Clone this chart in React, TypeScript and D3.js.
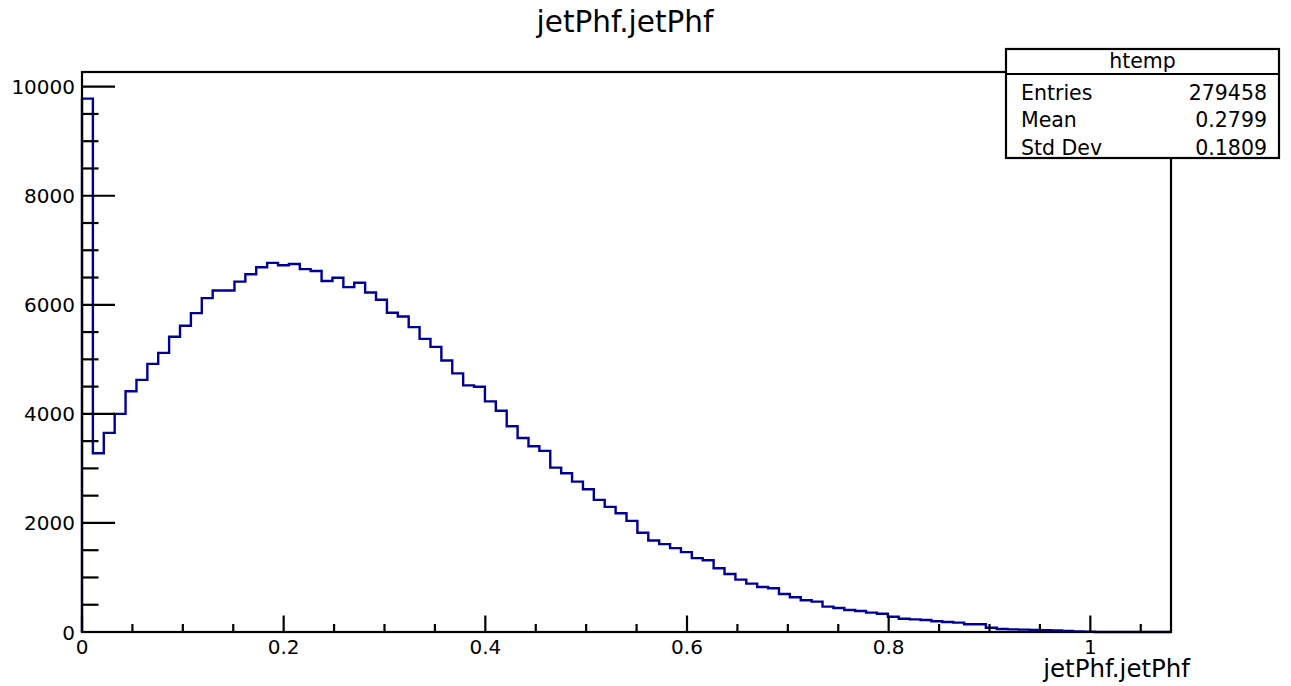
import React from "react";
import * as d3 from "d3";

const binCounts: number[] = [
  9780, 3279, 3651, 4000, 4416, 4624, 4917, 5119, 5413, 5615,
  5847, 6122, 6263, 6263, 6425, 6560, 6688, 6768, 6725, 6748,
  6654, 6620, 6437, 6495, 6324, 6404, 6226, 6092, 5853, 5786,
  5590, 5376, 5229, 4979, 4743, 4523, 4498, 4230, 4058, 3774,
  3557, 3407, 3321, 3015, 2912, 2758, 2618, 2422, 2294, 2178,
  2037, 1820, 1679, 1612, 1538, 1465, 1355, 1315, 1168, 1064,
  960, 887, 826, 801, 697, 636, 581, 557, 465, 440,
  404, 385, 355, 336, 281, 242, 232, 220, 196, 183,
  171, 141, 141, 79, 55, 49, 43, 37, 31, 27,
  20, 12, 4, 0, 0, 0, 0, 0, 0, 0,
];
const xMin = 0;
const xMax = 1.08;
const xMajorTicks: number[] = [0, 0.2, 0.4, 0.6, 0.8, 1];
const xTickLabels: string[] = ["0", "0.2", "0.4", "0.6", "0.8", "1"];
const yMajorTicks: number[] = [0, 2000, 4000, 6000, 8000, 10000];
const yTickLabels: string[] = ["0", "2000", "4000", "6000", "8000", "10000"];
const statsLabels: string[] = ["Entries", "Mean", "Std Dev"];
const statsValues: string[] = ["279458", "0.2799", "0.1809"];
const histName = "htemp";
const title = "jetPhf.jetPhf";
const xTitle = "jetPhf.jetPhf";

const W = 1291;
const H = 686;
const FL = 82, FR = 1171, FT = 72, FB = 632;
const FONT = "'DejaVu Sans', Verdana, sans-serif";
const LINE = "#000099";

export default function App() {
  const nb = binCounts.length;
  const bw = (xMax - xMin) / nb;
  const yTop = (d3.max(binCounts) as number) * 1.05;
  const x = d3.scaleLinear().domain([xMin, xMax]).range([FL, FR]);
  const y = d3.scaleLinear().domain([0, yTop]).range([FB, FT]);

  const path = d3.path();
  path.moveTo(x(xMin), y(0));
  binCounts.forEach((v, i) => {
    path.lineTo(x(xMin + i * bw), y(v));
    path.lineTo(x(xMin + (i + 1) * bw), y(v));
  });
  path.lineTo(x(xMax), y(0));

  const yMinor = d3.range(0, yTop, 500).filter((v) => v % 2000 !== 0);
  const xMinor = d3.range(0, xMax + 1e-9, 0.05).filter((v) => Math.abs(v / 0.2 - Math.round(v / 0.2)) > 1e-6);

  const bx0 = 1006, bx1 = 1279, by0 = 49, by1 = 158, bsep = 74;

  return (
    <svg width={W} height={H} style={{ position: "absolute", left: 0, top: 0, background: "#fff" }} fontFamily={FONT}>
      <rect x={0} y={0} width={W} height={H} fill="#fff" />
      <text x={625} y={32} fontSize={29.5} textAnchor="middle" fill="#000">{title}</text>

      {/* histogram */}
      <path d={path.toString()} fill="none" stroke={LINE} strokeWidth={2.4} strokeLinejoin="miter" />

      {/* frame */}
      <rect x={FL} y={FT} width={FR - FL} height={FB - FT} fill="none" stroke="#000" strokeWidth={2.2} />

      {/* y ticks */}
      {yMajorTicks.map((v) => (
        <line key={"ym" + v} x1={FL} x2={FL + 33} y1={y(v)} y2={y(v)} stroke="#000" strokeWidth={2.2} />
      ))}
      {yMinor.map((v) => (
        <line key={"yn" + v} x1={FL} x2={FL + 16.5} y1={y(v)} y2={y(v)} stroke="#000" strokeWidth={2.2} />
      ))}
      {yMajorTicks.map((v, i) => (
        <text key={"yl" + v} x={75} y={y(v) + 7.5} fontSize={20} textAnchor="end" fill="#000">{yTickLabels[i]}</text>
      ))}

      {/* x ticks */}
      {xMajorTicks.map((v) => (
        <line key={"xm" + v} x1={x(v)} x2={x(v)} y1={FB} y2={FB - 16.5} stroke="#000" strokeWidth={2.2} />
      ))}
      {xMinor.map((v) => (
        <line key={"xn" + v} x1={x(v)} x2={x(v)} y1={FB} y2={FB - 8} stroke="#000" strokeWidth={2.2} />
      ))}
      {xMajorTicks.map((v, i) => (
        <text key={"xl" + v} x={x(v)} y={654} fontSize={20} textAnchor="middle" fill="#000">{xTickLabels[i]}</text>
      ))}
      <text x={1190} y={677} fontSize={24.5} textAnchor="end" fill="#000">{xTitle}</text>

      {/* stats box */}
      <rect x={bx0} y={by0} width={bx1 - bx0} height={by1 - by0} fill="#fff" stroke="#000" strokeWidth={2.2} />
      <line x1={bx0} x2={bx1} y1={bsep} y2={bsep} stroke="#000" strokeWidth={2.2} />
      <text x={(bx0 + bx1) / 2} y={68} fontSize={20.5} textAnchor="middle" fill="#000">{histName}</text>
      {statsLabels.map((s, i) => (
        <g key={s}>
          <text x={1021} y={100 + i * 27.3} fontSize={20.5} fill="#000">{s}</text>
          <text x={1267} y={100 + i * 27.3} fontSize={20.5} textAnchor="end" fill="#000">{statsValues[i]}</text>
        </g>
      ))}
    </svg>
  );
}
